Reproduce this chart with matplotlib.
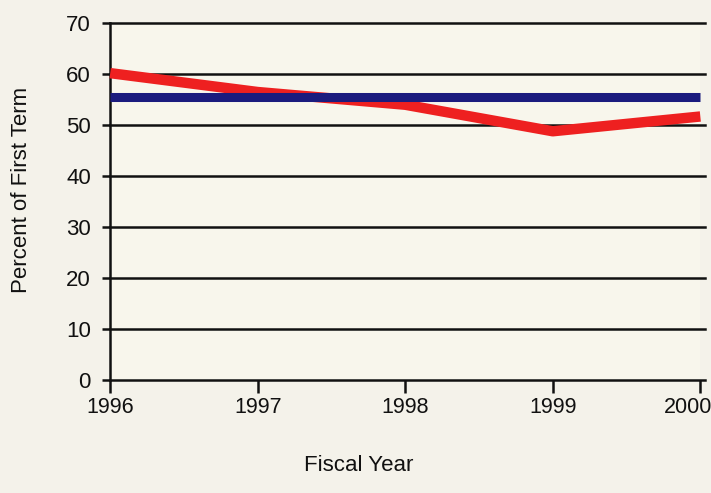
import matplotlib
matplotlib.use("Agg")
import matplotlib.pyplot as plt
import matplotlib.transforms as mtransforms

years = [1996, 1997, 1998, 1999, 2000]
actual = [60.2, 56.5, 54.0, 48.8, 51.7]
goal = [55.5, 55.5, 55.5, 55.5, 55.5]
yticks = [0, 10, 20, 30, 40, 50, 60, 70]

plt.rcParams['font.family'] = ['Liberation Sans', 'DejaVu Sans']

fig = plt.figure(figsize=(7.11, 4.93), dpi=100, facecolor='#f4f2ea')
ax = fig.add_axes([0.155, 0.229, 0.830, 0.724])
ax.set_facecolor('#f8f6ec')

for y in yticks:
    ax.axhline(y, color='#111111', lw=1.8, zorder=1, xmin=0, xmax=1.008, clip_on=False)

ax.plot(years, actual, color='#ee2020', lw=7.5, solid_capstyle='butt', zorder=3, clip_on=False)
ax.plot(years, goal, color='#1b1b7e', lw=6.5, solid_capstyle='butt', zorder=4, clip_on=False)

ax.set_xlim(1996, 2000)
ax.set_ylim(0, 70)
ax.set_xticks(years)
ax.set_xticklabels([str(y) for y in years])
ax.set_yticks(yticks)

for s in ['top', 'right', 'bottom']:
    ax.spines[s].set_visible(False)
ax.spines['left'].set_linewidth(1.8)
ax.spines['left'].set_color('#111111')

ax.tick_params(axis='x', direction='out', length=9, width=1.8, labelsize=15.5, pad=3, colors='#111111')
ax.tick_params(axis='y', direction='out', length=6, width=1.8, labelsize=16, pad=8, colors='#111111')

last = ax.get_xticklabels()[-1]
last.set_transform(last.get_transform() + mtransforms.ScaledTranslation(-12 / 100, 0, fig.dpi_scale_trans))

fig.text(0.030, 0.615, 'Percent of First Term', rotation=90, ha='center', va='center',
         fontsize=16, color='#111111')
fig.text(0.505, 0.056, 'Fiscal Year', ha='center', va='center', fontsize=16, color='#111111')

fig.savefig('out.png', dpi=100, facecolor=fig.get_facecolor())
